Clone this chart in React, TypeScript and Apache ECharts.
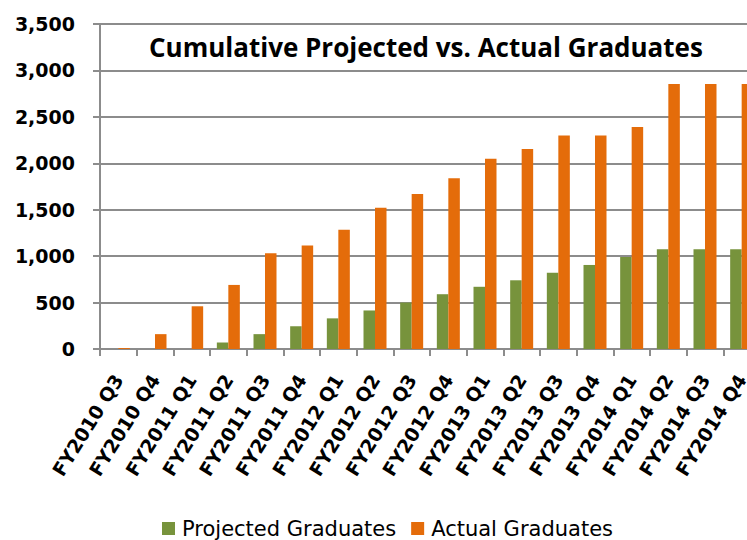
import React, { useEffect, useRef } from "react";
import * as echarts from "echarts";

const categories = [
  "FY2010 Q3", "FY2010 Q4", "FY2011 Q1", "FY2011 Q2", "FY2011 Q3", "FY2011 Q4",
  "FY2012 Q1", "FY2012 Q2", "FY2012 Q3", "FY2012 Q4", "FY2013 Q1", "FY2013 Q2",
  "FY2013 Q3", "FY2013 Q4", "FY2014 Q1", "FY2014 Q2", "FY2014 Q3", "FY2014 Q4",
];
const projectedGraduates = [0, 0, 0, 70, 160, 245, 330, 415, 500, 590, 670, 740, 820, 905, 990, 1075, 1075, 1075];
const actualGraduates = [10, 160, 460, 690, 1030, 1115, 1285, 1520, 1670, 1840, 2050, 2155, 2300, 2300, 2390, 2855, 2855, 2855];

const titleText = "Cumulative Projected vs. Actual Graduates";
const TITLE_FONT = "'Open Sans', 'Noto Sans', sans-serif";
const FONT = "'DejaVu Sans', sans-serif";

export default function App() {
  const ref = useRef<HTMLDivElement>(null);
  useEffect(() => {
    if (!ref.current) return;
    const chart = echarts.init(ref.current, null, { renderer: "svg" });
    chart.setOption({
      animation: false,
      backgroundColor: "#ffffff",
      title: {
        text: titleText,
        left: 144,
        top: 29,
        textStyle: { fontFamily: TITLE_FONT, fontWeight: "bold", fontSize: 26, color: "#000" },
      },
      legend: {
        left: 157,
        top: 513,
        itemWidth: 13,
        itemHeight: 13,
        itemGap: 15,
        icon: "rect",
        textStyle: { fontFamily: FONT, fontSize: 21, color: "#000", padding: [0, 0, 0, 2] },
        data: ["Projected Graduates", "Actual Graduates"],
      },
      grid: {
        left: 100,
        top: 24,
        width: 660,
        height: 325,
        containLabel: false,
        outerBoundsMode: "none",
      },
      xAxis: {
        type: "category",
        data: categories,
        axisLine: { lineStyle: { color: "#8c8c8c", width: 2 } },
        axisTick: { show: true, length: 7, lineStyle: { color: "#8c8c8c", width: 2 } },
        axisLabel: {
          rotate: 58,
          margin: 27,
          interval: 0,
          fontFamily: FONT,
          fontWeight: "bold",
          fontSize: 19,
          color: "#000",
        },
      },
      yAxis: {
        type: "value",
        min: 0,
        max: 3500,
        interval: 500,
        axisLine: { show: true, lineStyle: { color: "#8c8c8c", width: 2 } },
        axisTick: { show: true, length: 7, lineStyle: { color: "#8c8c8c", width: 2 } },
        splitLine: { show: true, lineStyle: { color: "#8c8c8c", width: 2 } },
        axisLabel: {
          margin: 25,
          fontFamily: FONT,
          fontWeight: "bold",
          fontSize: 19,
          color: "#000",
          formatter: (v: number) => v.toLocaleString("en-US"),
        },
      },
      series: [
        {
          name: "Projected Graduates",
          type: "bar",
          data: projectedGraduates,
          barWidth: 11.5,
          barGap: "0%",
          itemStyle: { color: "#77933C" },
        },
        {
          name: "Actual Graduates",
          type: "bar",
          data: actualGraduates,
          barWidth: 11.5,
          barGap: "0%",
          itemStyle: { color: "#E46C0A" },
        },
      ],
    });
    return () => chart.dispose();
  }, []);
  return <div ref={ref} style={{ width: 747, height: 540, position: "absolute", left: 0, top: 0 }} />;
}
